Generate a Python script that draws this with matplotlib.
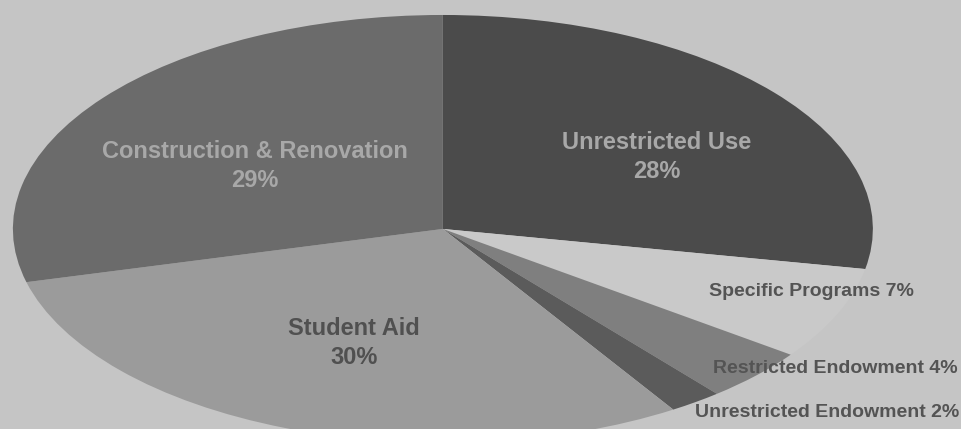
import matplotlib.pyplot as plt

# gift allocation shares, clockwise from 12 o'clock
categories = ["Unrestricted Use", "Specific Programs", "Restricted Endowment",
              "Unrestricted Endowment", "Student Aid", "Construction & Renovation"]
shares = [28, 7, 4, 2, 30, 29]
colors = ["#4b4b4b", "#c9c9c9", "#7f7f7f", "#5b5b5b", "#9b9b9b", "#6b6b6b"]

plt.rcParams["font.family"] = ["Liberation Sans", "DejaVu Sans"]

fig = plt.figure(figsize=(9.61, 4.29), dpi=100, facecolor="#c5c5c5")
ax = fig.add_axes([0, 0, 1, 1])
ax.set_facecolor("#c5c5c5")

ax.pie(shares, colors=colors, startangle=90, counterclock=False, radius=1,
       wedgeprops=dict(linewidth=0))

# squash the pie into a wide ellipse, cropped at the bottom
ax.set_aspect("auto")
ax.set_xlim(-1.030, 1.205)
ax.set_ylim(-0.935, 1.070)
ax.axis("off")

big = dict(fontsize=17, fontweight="bold", ha="center", va="center", linespacing=1.35)
small = dict(fontsize=14, fontweight="bold", va="center", color="#545454")

ax.text(-0.437, 0.294, f"{categories[5]}\n{shares[5]}%", color="#a8a8a8", **big)
ax.text(0.498, 0.336, f"{categories[0]}\n{shares[0]}%", color="#a8a8a8", **big)
ax.text(-0.207, -0.533, f"{categories[4]}\n{shares[4]}%", color="#505050", **big)

ax.text(0.856, -0.294, f"{categories[1]} {shares[1]}%", ha="center", **small)
ax.text(1.198, -0.654, f"{categories[2]} {shares[2]}%", ha="right", **small)
ax.text(1.202, -0.860, f"{categories[3]} {shares[3]}%", ha="right", **small)

fig.savefig("out.png", dpi=100, facecolor=fig.get_facecolor())
